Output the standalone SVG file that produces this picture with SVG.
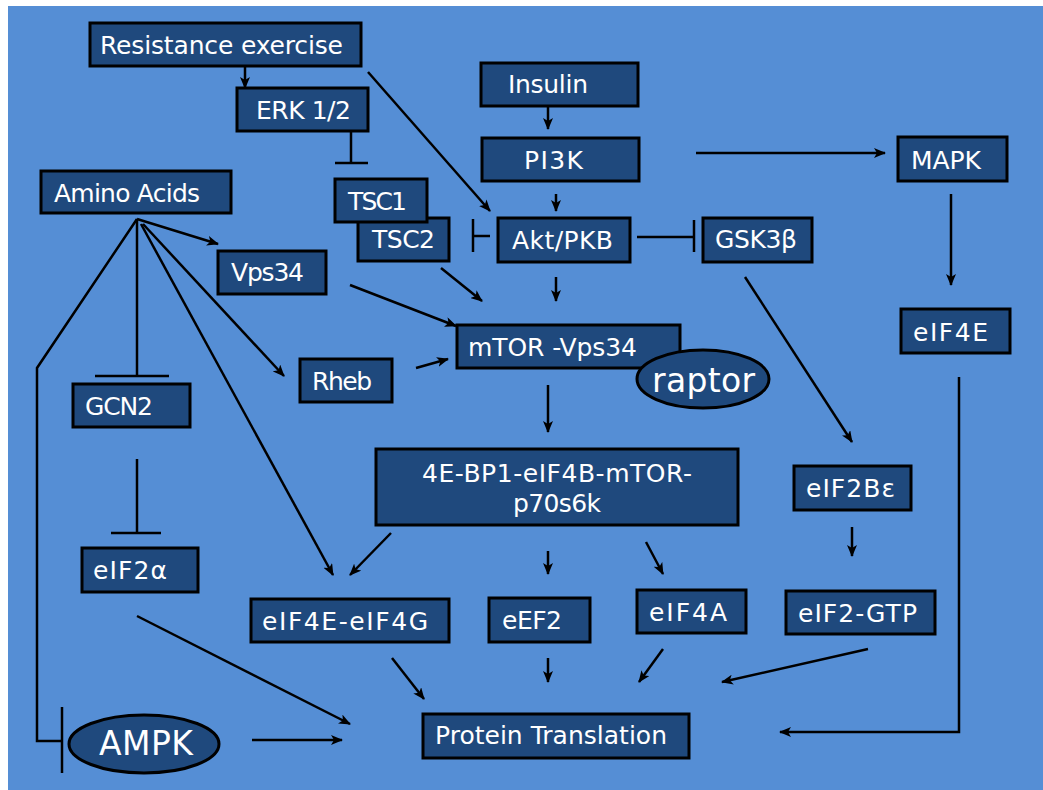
<svg xmlns="http://www.w3.org/2000/svg" width="1043" height="790" viewBox="0 0 1043 790">
<defs>
<marker id="ah" markerUnits="userSpaceOnUse" markerWidth="12" markerHeight="10" refX="11" refY="5" orient="auto">
<path d="M0,0 L12,5 L0,10 L3,5 Z" fill="#000"/>
</marker>
<style>
.n{fill:#1F497D;stroke:#000;stroke-width:3}
.t{fill:#fff;font-family:"DejaVu Sans","Noto Sans",sans-serif;font-size:25px}
.c line,.c polyline{stroke:#000;stroke-width:2.5;fill:none}
.a{marker-end:url(#ah)}
</style>
</defs>
<rect x="0" y="0" width="1043" height="790" fill="#fff"/>
<rect x="8" y="6" width="1035" height="784" fill="#558ED5"/>

<g class="c" id="connectors">
<line class="a" x1="245" y1="66" x2="245" y2="88"/>
<line class="a" x1="368" y1="72" x2="490" y2="211"/>
<line x1="351" y1="131" x2="351" y2="163"/><line x1="335" y1="163" x2="368" y2="163"/>
<line class="a" x1="548" y1="106" x2="548" y2="129"/>
<line class="a" x1="556" y1="194" x2="556" y2="211"/>
<line class="a" x1="696" y1="153" x2="885" y2="153"/>
<line x1="473" y1="219" x2="473" y2="252"/><line x1="473" y1="236" x2="490" y2="236"/>
<line x1="637" y1="237" x2="694" y2="237"/><line x1="694" y1="220" x2="694" y2="252"/>
<line class="a" x1="556" y1="277" x2="556" y2="301"/>
<line class="a" x1="441" y1="268" x2="482" y2="301"/>
<line class="a" x1="350" y1="285" x2="456" y2="326"/>
<line class="a" x1="416" y1="368" x2="448" y2="359"/>
<line class="a" x1="548" y1="385" x2="548" y2="432"/>
<line class="a" x1="745" y1="277" x2="852" y2="442"/>
<line class="a" x1="951" y1="194" x2="951" y2="285"/>
<polyline class="a" points="959,377 959,732 780,732"/>
<line class="a" x1="852" y1="527" x2="852" y2="556"/>
<line class="a" x1="868" y1="649" x2="722" y2="682"/>
<line class="a" x1="663" y1="649" x2="639" y2="682"/>
<line class="a" x1="646" y1="542" x2="663" y2="574"/>
<line class="a" x1="548" y1="551" x2="548" y2="574"/>
<line class="a" x1="391" y1="533" x2="350" y2="575"/>
<line class="a" x1="141" y1="224" x2="333" y2="575"/>
<line class="a" x1="392" y1="658" x2="424" y2="699"/>
<line class="a" x1="548" y1="658" x2="548" y2="682"/>
<line class="a" x1="137" y1="616" x2="350" y2="724"/>
<line class="a" x1="252" y1="740" x2="342" y2="740"/>
<line class="a" x1="137" y1="219" x2="218" y2="244"/>
<line class="a" x1="143" y1="224" x2="284" y2="376"/>
<line x1="137" y1="219" x2="137" y2="376"/><line x1="95" y1="376" x2="169" y2="376"/>
<line x1="137" y1="459" x2="137" y2="533"/><line x1="111" y1="533" x2="161" y2="533"/>
<polyline points="137,219 37,368 37,741 62,741"/><line x1="62" y1="707" x2="62" y2="773"/>
</g>

<g id="resistance"><rect class="n" x="90" y="23" width="271" height="43"/><text class="t" x="100" y="54" textLength="243">Resistance exercise</text></g>
<g id="erk"><rect class="n" x="237" y="88" width="131" height="43"/><text class="t" x="256" y="119" textLength="95">ERK 1/2</text></g>
<g id="amino"><rect class="n" x="41" y="171" width="190" height="42"/><text class="t" x="54" y="202" textLength="146">Amino Acids</text></g>
<g id="insulin"><rect class="n" x="481" y="63" width="157" height="43"/><text class="t" x="508" y="93" textLength="80">Insulin</text></g>
<g id="pi3k"><rect class="n" x="482" y="138" width="157" height="43"/><text class="t" x="524" y="169" textLength="59">PI3K</text></g>
<g id="tsc2"><rect class="n" x="358" y="218" width="91" height="43"/><text class="t" x="372" y="248" textLength="63">TSC2</text></g>
<g id="tsc1"><rect class="n" x="335" y="179" width="92" height="43"/><text class="t" x="348" y="210" textLength="59">TSC1</text></g>
<g id="akt"><rect class="n" x="498" y="218" width="132" height="44"/><text class="t" x="512" y="249" textLength="101">Akt/PKB</text></g>
<g id="gsk3b"><rect class="n" x="703" y="218" width="109" height="44"/><text class="t" x="715" y="248" textLength="82">GSK3β</text></g>
<g id="mapk"><rect class="n" x="898" y="137" width="109" height="44"/><text class="t" x="911" y="169" textLength="70">MAPK</text></g>
<g id="vps34"><rect class="n" x="218" y="251" width="108" height="43"/><text class="t" x="231" y="281" textLength="73">Vps34</text></g>
<g id="mtor"><rect class="n" x="457" y="325" width="223" height="43"/><text class="t" x="468" y="356" textLength="169">mTOR -Vps34</text></g>
<g id="raptor"><ellipse class="n" cx="703" cy="379" rx="66" ry="29"/><text class="t" x="652" y="392" style="font-size:33px" textLength="103">raptor</text></g>
<g id="rheb"><rect class="n" x="300" y="359" width="92" height="43"/><text class="t" x="312" y="390" textLength="60">Rheb</text></g>
<g id="eif4e"><rect class="n" x="901" y="309" width="109" height="44"/><text class="t" x="913" y="341" textLength="75">eIF4E</text></g>
<g id="gcn2"><rect class="n" x="73" y="384" width="117" height="43"/><text class="t" x="85" y="415" textLength="68">GCN2</text></g>
<g id="complex"><rect class="n" x="376" y="449" width="362" height="76"/><text class="t" x="422" y="482" textLength="270">4E-BP1-eIF4B-mTOR-</text><text class="t" x="513" y="512" textLength="88">p70s6k</text></g>
<g id="eif2be"><rect class="n" x="794" y="466" width="117" height="44"/><text class="t" x="806" y="497" textLength="89">eIF2Bε</text></g>
<g id="eif2a"><rect class="n" x="82" y="548" width="116" height="44"/><text class="t" x="93" y="579" textLength="74">eIF2α</text></g>
<g id="eif4eg"><rect class="n" x="251" y="599" width="198" height="43"/><text class="t" x="262" y="630" textLength="166">eIF4E-eIF4G</text></g>
<g id="eef2"><rect class="n" x="489" y="598" width="101" height="44"/><text class="t" x="502" y="629" textLength="60">eEF2</text></g>
<g id="eif4a"><rect class="n" x="637" y="590" width="109" height="43"/><text class="t" x="649" y="621" textLength="78">eIF4A</text></g>
<g id="eif2gtp"><rect class="n" x="786" y="591" width="149" height="43"/><text class="t" x="798" y="622" textLength="119">eIF2-GTP</text></g>
<g id="protein"><rect class="n" x="423" y="714" width="266" height="44"/><text class="t" x="435" y="744" textLength="232">Protein Translation</text></g>
<g id="ampk"><ellipse class="n" cx="144" cy="744" rx="75" ry="29"/><text class="t" x="99" y="755" style="font-size:33px" textLength="94">AMPK</text></g>
</svg>
